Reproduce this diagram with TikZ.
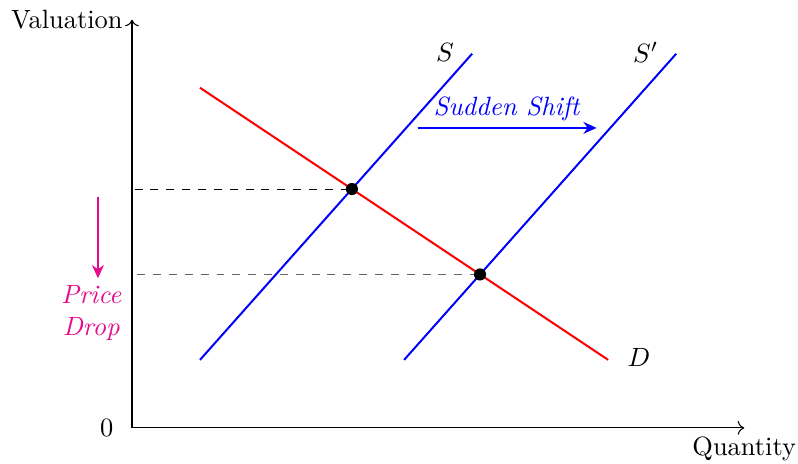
\documentclass[tikz,border=0pt]{standalone}
\usepackage{amsmath,amssymb}
\usepackage{tikz}
\usetikzlibrary{arrows.meta,intersections}
\definecolor{droppink}{RGB}{230,10,140}

\begin{document}
\begin{tikzpicture}[x=0.905cm,y=0.905cm,
  curve/.style={line width=0.75pt},
  guide/.style={dashed},
  dot/.style={circle,fill=black,inner sep=0pt,minimum size=4.6pt},
  move/.style={line width=0.75pt,-{Stealth[length=5pt,width=4.5pt]}}]
\useasboundingbox (-1.94,-0.53) rectangle (9.79,6.29);
\coordinate (o) at (0,0);
\coordinate (ytop) at (0,6);
\coordinate (xend) at (9,0);
\draw[->,line width=0.4pt] (o) -- (ytop) node[left] (vallab) {Valuation};
\draw[->,line width=0.4pt] (o) -- (xend) node[below] (qlab) {Quantity};
\node (zero) at (-0.37,0) {0};
\begin{scope}
  \coordinate (dtop) at (1,5);
  \coordinate (dbot) at (7,1);
  \coordinate (sbot) at (1,1);
  \coordinate (stop) at (5,5.5);
  \coordinate (snbot) at (4,1);
  \coordinate (sntop) at (8,5.5);
  \draw[curve,red,name path=dline] (dtop) -- (dbot);
  \draw[curve,blue,name path=sline] (sbot) -- (stop);
  \draw[curve,blue,name path=snline] (snbot) -- (sntop);
  \path[name intersections={of=dline and sline,by=eqold}];
  \path[name intersections={of=dline and snline,by=eqnew}];
  \coordinate (yold) at ([xshift=1pt]eqold -| o);
  \coordinate (ynew) at ([xshift=2pt]eqnew -| o);
  \draw[guide,black,line width=0.35pt] (yold) -- (eqold);
  \draw[guide,black!60,line width=0.6pt] (ynew) -- (eqnew);
  \node[dot] (ptold) at (eqold) {};
  \node[dot] (ptnew) at (eqnew) {};
\end{scope}
\node (slab) at (4.6,5.52) {$S$};
\node (snlab) at (7.55,5.52) {$S'$};
\node (dlab) at (7.45,1.03) {$D$};
\coordinate (shiftstart) at (4.2,4.41);
\coordinate (shiftend) at (6.83,4.41);
\draw[move,blue] (shiftstart) -- (shiftend) node[midway,above=-1pt,blue] (shiftlab) {\textit{Sudden Shift}};
\coordinate (dropstart) at (-0.5,3.4);
\coordinate (dropend) at (-0.5,2.2);
\draw[move,droppink] (dropstart) -- (dropend);
\node[droppink,align=center,font=\itshape] (droplab) at (-0.6,1.69) {Price\\Drop};
\end{tikzpicture}
\end{document}
